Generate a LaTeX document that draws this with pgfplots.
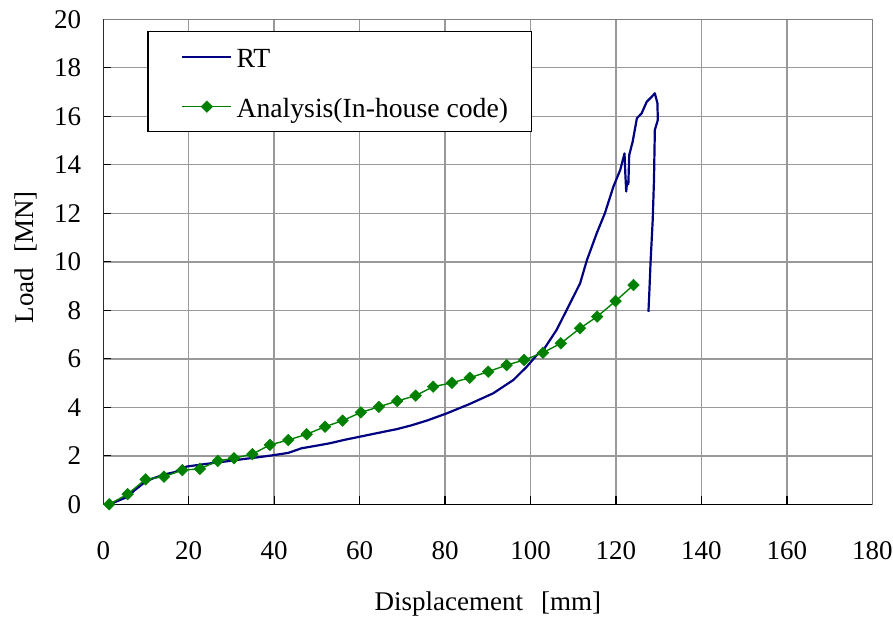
\documentclass[border=0pt]{standalone}
\usepackage{fontspec}
\setmainfont{Liberation Serif}
\usepackage{pgfplots}
\pgfplotsset{compat=1.18}
\definecolor{rtblue}{RGB}{0,0,128}
\definecolor{angreen}{RGB}{0,128,0}
\begin{document}
\begin{tikzpicture}
\useasboundingbox (-103.3bp,-114.7bp) rectangle (789.7bp,504.3bp);
\begin{axis}[
  at={(0,0)}, anchor=south west,
  scale only axis, width=769bp, height=485bp,
  xmin=0, xmax=180, ymin=0, ymax=20,
  xtick={0,20,...,180}, ytick={0,2,...,20},
  grid=major, major grid style={color=black!40, line width=1.4bp},
  axis line style={color=black!50, line width=1.3bp},
  tick align=inside, major tick length=8bp,
  tick style={black, line width=1.3bp},
  xtick pos=lower, ytick pos=left,
  font=\fontsize{27bp}{32bp}\selectfont,
  /pgf/number format/assume math mode=true,
  xticklabel style={anchor=base, inner sep=0pt, yshift=-54.7bp},
  yticklabel style={anchor=east, inner sep=0pt, xshift=-22bp},
  xlabel={Displacement\hspace{18bp}[mm]}, ylabel={Load\hspace{15bp}[MN]},
  xlabel style={at={(axis description cs:0.5,-0.218)}, anchor=base},
  ylabel style={at={(axis description cs:-0.0914,0.509)}, anchor=base},
  legend cell align=left,
  legend image code/.code={\path (0bp,0bp); \draw[mark repeat=2,mark phase=2,#1] plot coordinates {(14bp,0bp) (38.5bp,0bp) (63bp,0bp)};},
  legend style={at={(axis description cs:0.0572,0.9759)}, anchor=north west,
    draw=black, line width=1.3bp, inner xsep=19.4bp, inner ysep=13bp, row sep=26bp,
    nodes={inner xsep=4bp, inner ysep=0pt, text height=23bp, text depth=1bp},
    font=\fontsize{27.7bp}{32bp}\selectfont},
]
\draw[black, line width=1.3bp] (rel axis cs:0,1) -- (rel axis cs:0,0) -- (rel axis cs:1,0);
\addplot[rtblue, line width=2.2bp, line join=round] coordinates {
(1.6,0) (2.7,0.09) (4.2,0.2) (5.6,0.30) (7.4,0.59) (9.8,0.92) (11.5,1.06) (13.3,1.17)
(15.0,1.26) (16.8,1.33) (18.2,1.47) (19.6,1.56) (22.6,1.63) (26.0,1.71) (29.7,1.79)
(33.0,1.87) (36.7,1.95) (40.0,2.03) (43.3,2.12) (46.4,2.31) (50.0,2.42) (53.1,2.52)
(56.5,2.66) (60.1,2.79) (64.5,2.95) (68.7,3.10) (72.0,3.25) (75.7,3.45) (80.4,3.75)
(85.8,4.14) (91.3,4.58) (96.0,5.13) (99.1,5.67) (101.5,6.16) (103.0,6.36) (106.1,7.19)
(109.0,8.2) (111.6,9.11) (113.2,10.07) (115.5,11.18) (117.4,12.0) (119.4,13.1)
(121.0,13.79) (122.0,14.47) (122.2,13.6) (122.4,12.9) (122.6,13.3) (122.9,13.2) (123.1,14.4)
(123.9,14.95) (124.9,15.92) (126.0,16.12) (127.2,16.6) (128.4,16.81) (129.1,16.95)
(129.7,16.54) (129.8,15.85) (129.1,15.44) (128.9,13.38) (128.6,11.72) (128.1,10.0)
(127.8,8.7) (127.6,7.94)
};
\addlegendentry{RT}
\addplot[angreen, line width=1.4bp, mark=square*, mark size=4.1bp,
  mark options={rotate=45, solid, fill=angreen, draw=angreen, line width=0.5bp}] coordinates {
(1.4,0) (5.7,0.42) (9.9,1.03) (14.2,1.14) (18.5,1.41) (22.6,1.46) (26.8,1.79) (30.6,1.90)
(34.9,2.07) (39.0,2.45) (43.3,2.65) (47.6,2.89) (51.9,3.20) (56.0,3.45) (60.3,3.79)
(64.5,4.02) (68.8,4.26) (73.1,4.48) (77.2,4.85) (81.6,5.01) (85.8,5.22) (90.1,5.47)
(94.4,5.74) (98.5,5.95) (102.9,6.25) (107.1,6.64) (111.6,7.26) (115.6,7.74) (119.9,8.38)
(124.1,9.04)
};
\addlegendentry{Analysis(In-house code)}
\end{axis}
\end{tikzpicture}
\end{document}
